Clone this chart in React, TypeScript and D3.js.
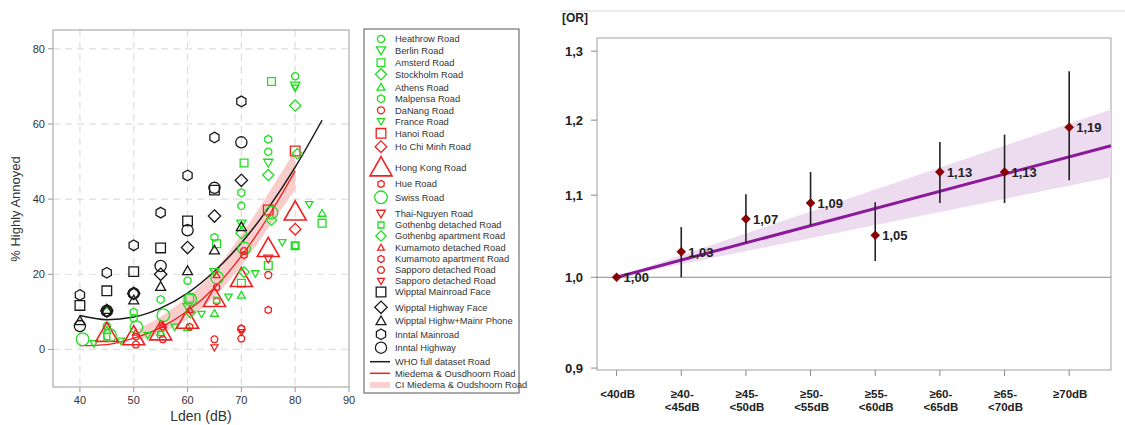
import React from "react";
import * as d3 from "d3";

// ---------------- LEFT CHART DATA ----------------
const xTicksL = [40, 50, 60, 70, 80, 90];
const yTicksL = [0, 20, 40, 60, 80];

const heathrow = [[80, 72.7], [75, 52.6], [70, 38.2], [60, 18.3], [50, 8.3], [45, 6.2]];
const berlin = [[80, 70.2], [75, 49.7], [70, 33.5], [65, 20.6], [60, 11.3]];
const amsterd = [[75.6, 71.3], [70.5, 49.6], [65.4, 28.1], [60.4, 13.6], [85, 33.6], [80, 27.6], [75, 22.3], [70, 17.6]];
const stockholm = [[80, 64.9], [75, 46.4], [70, 30.9]];
const athens = [[85, 36.2], [70, 14.4], [65, 9.6], [60, 5.8], [55, 4.5], [45, 5.1]];
const malpensa = [[75, 55.9], [70, 41.7], [65, 29.8], [55, 13.3], [50, 9.9], [45, 9.9]];
const danang = [[75, 19.8], [70, 5.4]];
const france = [[42.6, 1.6], [47.6, 2.3], [52.6, 3.8], [57.6, 6.0], [62.6, 9.4], [67.6, 14.0], [72.6, 20.2], [77.6, 28.5], [82.6, 38.6], [80, 69.6]];
const hanoi = [[75, 37.1], [80, 52.8]];
const hochiminh = [[80, 32.0]];
const hongkong = [[45, 4.3], [50, 3.4], [55, 4.7], [60, 7.8], [65, 13.6], [70, 18.9], [75, 26.9], [80, 36.6]];
const hue = [[75, 10.5], [70, 5.6], [65.4, 12.8]];
const swiss = [[40.5, 2.7], [45.6, 3.8], [50.5, 5.9], [55.5, 9.1], [60.5, 13.3], [65.5, 19.1], [70.5, 26.9], [75.6, 36.4]];
const thaiNguyen = [[75, 24.2]];
const gothDetached = [[80, 27.6], [65.4, 13.1], [55, 4.0], [45, 3.4]];
const gothApartment = [[80.4, 52.1], [75.6, 34.4], [70.5, 20.6], [60.5, 9.8]];
const kumDetached = [[65.4, 19.8], [60.4, 10.5], [55.4, 6.5], [50.4, 4.5]];
const kumApartment = [[70.5, 25.1], [65.4, 16.5], [60.4, 6.0], [55.4, 6.0], [50.4, 3.4]];
const sapporoCircle = [[70, 2.9], [65, 2.7], [55.4, 2.7], [50.4, 1.3], [70.5, 26.2]];
const sapporoTri = [[65, 0.5], [70, 4.6]];
const wipptalMain = [[40, 11.7], [45, 15.6], [50, 20.7], [55, 27.0], [60, 34.2], [65, 42.4]];
const wipptalHighway = [[45, 10.3], [50, 14.9], [55, 20.0], [60, 27.1], [65, 35.5], [70, 45.0]];
const wipptalPhone = [[40, 7.6], [45, 10.6], [50, 13.1], [55, 16.7], [60, 20.9], [65, 26.4], [70, 32.6]];
const inntalMain = [[40, 14.5], [45, 20.4], [50, 27.7], [55, 36.4], [60, 46.3], [65, 56.4], [70, 66.0], [45, 10.0], [50, 14.8]];
const inntalHighway = [[40, 6.2], [45, 10.3], [50, 14.9], [55, 22.2], [60, 31.7], [65, 43.0], [70, 55.1]];

const whoX = [40, 45, 50, 55, 60, 65, 70, 75, 80, 85];
const whoY = [9.0, 7.9, 8.6, 11.0, 15.0, 20.8, 28.3, 37.6, 48.5, 61.0];
const miedemaX = [40, 45, 50, 55, 60, 65, 70, 75, 80];
const miedemaY = [1.0, 1.3, 3.0, 5.8, 10.2, 16.4, 24.8, 35.3, 47.5];
const ciX = [51, 55, 60, 65, 70, 75, 80];
const ciLow = [2.5, 4.3, 8.0, 14.0, 22.3, 32.3, 42.5];
const ciHigh = [5.6, 8.7, 14.0, 21.0, 30.5, 41.5, 53.0];

// ---------------- RIGHT CHART DATA ----------------
const categories = ["<40dB", "≥40-<45dB", "≥45-<50dB", "≥50-<55dB", "≥55-<60dB", "≥60-<65dB", "≥65-<70dB", "≥70dB"];
const categoryLines = [["<40dB"], ["≥40-", "<45dB"], ["≥45-", "<50dB"], ["≥50-", "<55dB"], ["≥55-", "<60dB"], ["≥60-", "<65dB"], ["≥65-", "<70dB"], ["≥70dB"]];
const orValues = [1.0, 1.03, 1.07, 1.09, 1.05, 1.13, 1.13, 1.19];
const orLow = [1.0, 1.0, 1.041, 1.062, 1.019, 1.09, 1.09, 1.119];
const orHigh = [1.0, 1.06, 1.101, 1.13, 1.091, 1.17, 1.18, 1.27];
const orLabels = ["1,00", "1,03", "1,07", "1,09", "1,05", "1,13", "1,13", "1,19"];
const yTicksR = [0.9, 1.0, 1.1, 1.2, 1.3];
const yTickLabelsR = ["0,9", "1,0", "1,1", "1,2", "1,3"];
const trendCat = [0, 7];
const trendOR = [1.0, 1.15];
const trendUpper = [1.0, 1.195];
const trendLower = [1.0, 1.112];

// ---------------- STYLES ----------------
const GREEN = "#22dd22";
const RED = "#ee2020";
const BLACK = "#1a1a1a";

type Shape = "circle" | "triUp" | "triDown" | "square" | "diamond" | "hexagon";
const series: { name: string; data: number[][]; shape: Shape; color: string; r: number; gap: number }[] = [
  { name: "Heathrow Road", data: heathrow, shape: "circle", color: GREEN, r: 3.6, gap: 0 },
  { name: "Berlin Road", data: berlin, shape: "triDown", color: GREEN, r: 4.6, gap: 11.3 },
  { name: "Amsterd Road", data: amsterd, shape: "square", color: GREEN, r: 3.9, gap: 12.4 },
  { name: "Stockholm Road", data: stockholm, shape: "diamond", color: GREEN, r: 5.6, gap: 11.6 },
  { name: "Athens Road", data: athens, shape: "triUp", color: GREEN, r: 3.9, gap: 13 },
  { name: "Malpensa Road", data: malpensa, shape: "hexagon", color: GREEN, r: 4.0, gap: 11.4 },
  { name: "DaNang Road", data: danang, shape: "circle", color: RED, r: 3.5, gap: 11.6 },
  { name: "France Road", data: france, shape: "triDown", color: GREEN, r: 3.7, gap: 11 },
  { name: "Hanoi Road", data: hanoi, shape: "square", color: RED, r: 4.8, gap: 12 },
  { name: "Ho Chi Minh Road", data: hochiminh, shape: "diamond", color: RED, r: 5.8, gap: 13.4 },
  { name: "Hong Kong Road", data: hongkong, shape: "triUp", color: RED, r: 11, gap: 21 },
  { name: "Hue Road", data: hue, shape: "hexagon", color: RED, r: 3.6, gap: 16.3 },
  { name: "Swiss Road", data: swiss, shape: "circle", color: GREEN, r: 6.3, gap: 13.3 },
  { name: "Thai-Nguyen Road", data: thaiNguyen, shape: "triDown", color: RED, r: 4.4, gap: 16.2 },
  { name: "Gothenbg detached Road", data: gothDetached, shape: "square", color: GREEN, r: 3.0, gap: 11.5 },
  { name: "Gothenbg apartment Road", data: gothApartment, shape: "diamond", color: GREEN, r: 5.2, gap: 11 },
  { name: "Kumamoto detached Road", data: kumDetached, shape: "triUp", color: RED, r: 3.4, gap: 11.7 },
  { name: "Kumamoto apartment Road", data: kumApartment, shape: "hexagon", color: RED, r: 3.5, gap: 11.3 },
  { name: "Sapporo detached Road", data: sapporoCircle, shape: "circle", color: RED, r: 3.4, gap: 11 },
  { name: "Sapporo detached Road", data: sapporoTri, shape: "triDown", color: RED, r: 3.5, gap: 11 },
  { name: "Wipptal Mainroad Face", data: wipptalMain, shape: "square", color: BLACK, r: 4.8, gap: 11 },
  { name: "Wipptal Highway Face", data: wipptalHighway, shape: "diamond", color: BLACK, r: 6.2, gap: 15.3 },
  { name: "Wipptal Highw+Mainr Phone", data: wipptalPhone, shape: "triUp", color: BLACK, r: 5.0, gap: 13.7 },
  { name: "Inntal Mainroad", data: inntalMain, shape: "hexagon", color: BLACK, r: 5.3, gap: 13.3 },
  { name: "Inntal Highway", data: inntalHighway, shape: "circle", color: BLACK, r: 5.6, gap: 13.4 },
];

function symPath(shape: Shape, r: number): string {
  const p = d3.path();
  if (shape === "circle") {
    p.arc(0, 0, r, 0, Math.PI * 2);
    p.closePath();
  } else if (shape === "square") {
    p.rect(-r, -r, 2 * r, 2 * r);
  } else if (shape === "diamond") {
    p.moveTo(0, -r); p.lineTo(r, 0); p.lineTo(0, r); p.lineTo(-r, 0); p.closePath();
  } else if (shape === "triUp") {
    p.moveTo(0, -r); p.lineTo(r, r * 0.74); p.lineTo(-r, r * 0.74); p.closePath();
  } else if (shape === "triDown") {
    p.moveTo(0, r); p.lineTo(r, -r * 0.74); p.lineTo(-r, -r * 0.74); p.closePath();
  } else {
    for (let k = 0; k < 6; k++) {
      const a = -Math.PI / 2 + (k * Math.PI) / 3;
      const x = r * Math.cos(a), y = r * Math.sin(a);
      if (k === 0) p.moveTo(x, y); else p.lineTo(x, y);
    }
    p.closePath();
  }
  return p.toString();
}

const FONT = "Arial, 'Liberation Sans', Helvetica, sans-serif";

function LeftChart() {
  const x = d3.scaleLinear().domain([35, 90]).range([53, 349]);
  const y = d3.scaleLinear().domain([-10, 85]).range([387, 30]);
  const whoPath = d3.line<number>().x((d) => x(d)).y((_, i) => y(whoY[i])).curve(d3.curveMonotoneX)(whoX) || "";
  const miePath = d3.line<number>().x((d) => x(d)).y((_, i) => y(miedemaY[i])).curve(d3.curveMonotoneX)(miedemaX) || "";
  const ciPath = d3.area<number>().x((d) => x(d)).y0((_, i) => y(ciLow[i])).y1((_, i) => y(ciHigh[i])).curve(d3.curveMonotoneX)(ciX) || "";

  const legendX = 364, legendY = 29, legendW = 155, legendH = 364;
  let cy = 39;
  const rows = series.map((s, i) => {
    if (i > 0) cy += s.gap;
    return { ...s, y: cy };
  });
  const lineRows = [
    { name: "WHO full dataset Road", kind: "line", color: BLACK, y: cy + 14 },
    { name: "Miedema & Ousdhoorn Road", kind: "line", color: RED, y: cy + 25.6 },
    { name: "CI Miedema & Oudshoorn Road", kind: "band", color: "#fbd0d0", y: cy + 37.3 },
  ];

  return (
    <g fontFamily={FONT}>
      {xTicksL.slice(0, 5).map((t) => (
        <line key={"gx" + t} x1={x(t)} x2={x(t)} y1={30} y2={387} stroke="#dedede" strokeWidth={1.2} strokeDasharray="7,5" />
      ))}
      {yTicksL.map((t) => (
        <line key={"gy" + t} x1={53} x2={349} y1={y(t)} y2={y(t)} stroke="#dedede" strokeWidth={1.2} strokeDasharray="7,5" />
      ))}
      <path d={ciPath} fill="#f9c4c4" fillOpacity={0.85} stroke="none" />
      <path d={miePath} fill="none" stroke={RED} strokeWidth={1.3} />
      <path d={whoPath} fill="none" stroke={BLACK} strokeWidth={1.5} />
      {series.map((s, si) =>
        s.data.map((d, i) => (
          <path key={si + "-" + i} d={symPath(s.shape, s.r)} transform={`translate(${x(d[0])},${y(d[1])})`} fill="none" stroke={s.color} strokeWidth={s.r > 8 ? 1.6 : 1.3} />
        ))
      )}
      <rect x={53} y={30} width={296} height={357} fill="none" stroke="#9a9a9a" strokeWidth={1} />
      {yTicksL.map((t) => (
        <g key={"ty" + t}>
          <line x1={48} x2={53} y1={y(t)} y2={y(t)} stroke="#9a9a9a" />
          <text x={45} y={y(t) + 4} fontSize={11} fill="#333" textAnchor="end">{t}</text>
        </g>
      ))}
      {xTicksL.map((t) => (
        <g key={"tx" + t}>
          <line x1={x(t)} x2={x(t)} y1={387} y2={392} stroke="#9a9a9a" />
          <text x={x(t)} y={404} fontSize={11} fill="#333" textAnchor="middle">{t}</text>
        </g>
      ))}
      <text x={201} y={421} fontSize={14} fill="#333" textAnchor="middle">Lden (dB)</text>
      <text transform="translate(20,209) rotate(-90)" fontSize={13} fill="#333" textAnchor="middle">% Highly Annoyed</text>
      <rect x={legendX} y={legendY} width={legendW} height={legendH} fill="white" stroke="#555" strokeWidth={1} />
      {rows.map((r, i) => (
        <g key={"lg" + i}>
          <path d={symPath(r.shape, r.r)} transform={`translate(381,${r.y})`} fill="none" stroke={r.color} strokeWidth={r.r > 8 ? 1.6 : 1.3} />
          <text x={395} y={r.y + 3.3} fontSize={9.3} fill="#333">{r.name}</text>
        </g>
      ))}
      {lineRows.map((r, i) => (
        <g key={"ll" + i}>
          {r.kind === "line" ? (
            <line x1={370} x2={390} y1={r.y} y2={r.y} stroke={r.color} strokeWidth={1.5} />
          ) : (
            <rect x={370} y={r.y - 3} width={20} height={6} fill={r.color} />
          )}
          <text x={395} y={r.y + 3.3} fontSize={9.3} fill="#333">{r.name}</text>
        </g>
      ))}
    </g>
  );
}

function RightChart() {
  const left = 597, right = 1111, top = 38, bottom = 370;
  const x = d3.scalePoint<string>().domain(categories).range([616.6, 1069.2]);
  const y = d3.scaleLog().domain([0.898, 1.32]).range([bottom, top]);
  const step = x.step();
  const x0 = x(categories[0]) as number;
  const catPx = (c: number) => x0 + c * step;
  const edgeCat = (right - x0) / step;
  const extend = (vals: number[]) => {
    const l0 = Math.log(vals[0]), l1 = Math.log(vals[1]);
    const slope = (l1 - l0) / (trendCat[1] - trendCat[0]);
    return Math.exp(l0 + slope * (edgeCat - trendCat[0]));
  };
  const cats = [trendCat[0], edgeCat];
  const up = [trendUpper[0], extend(trendUpper)];
  const lo = [trendLower[0], extend(trendLower)];
  const tr = [trendOR[0], extend(trendOR)];
  const band = d3.area<number>().x((c) => catPx(c)).y0((_, i) => y(lo[i])).y1((_, i) => y(up[i]))(cats) || "";
  const trend = d3.line<number>().x((c) => catPx(c)).y((_, i) => y(tr[i]))(cats) || "";

  return (
    <g fontFamily={FONT}>
      <line x1={560} x2={1125} y1={11} y2={11} stroke="#d8d8d8" strokeWidth={1} />
      <text x={562} y={22} fontSize={12} fontWeight="bold" fill="#222" textAnchor="start">[OR]</text>
      <rect x={left} y={top} width={right - left} height={bottom - top} fill="white" stroke="#a0a0a0" strokeWidth={1} />
      <path d={band} fill="#eddcf0" stroke="none" />
      <line x1={left} x2={right} y1={y(1)} y2={y(1)} stroke="#8a8a8a" strokeWidth={1} />
      <path d={trend} fill="none" stroke="#8b1a9a" strokeWidth={3} />
      {yTicksR.map((t, i) => (
        <g key={"yt" + i}>
          <line x1={591} x2={left} y1={y(t)} y2={y(t)} stroke="#888" />
          <text x={583} y={y(t) + 5} fontSize={13} fontWeight="bold" fill="#222" textAnchor="end">{yTickLabelsR[i]}</text>
        </g>
      ))}
      {categories.map((c, i) => (
        <g key={"xc" + i}>
          <line x1={x(c)} x2={x(c)} y1={bottom} y2={bottom + 6} stroke="#888" />
          {categoryLines[i].map((ln, j) => (
            <text key={j} x={(x(c) as number) + 1} y={398 + j * 13} fontSize={11.5} fontWeight="bold" fill="#222" textAnchor="middle">{ln}</text>
          ))}
        </g>
      ))}
      {categories.map((c, i) =>
        i > 0 ? (
          <line key={"eb" + i} x1={x(c)} x2={x(c)} y1={y(orLow[i])} y2={y(orHigh[i])} stroke="#222" strokeWidth={1.6} />
        ) : null
      )}
      {categories.map((c, i) => (
        <g key={"pt" + i}>
          <path d={symPath("diamond", 4.5)} transform={`translate(${x(c)},${y(orValues[i])})`} fill="#8b0000" stroke="#5a0000" strokeWidth={0.5} />
          <text x={(x(c) as number) + 7} y={y(orValues[i]) + 5} fontSize={13} fontWeight="bold" fill="#222">{orLabels[i]}</text>
        </g>
      ))}
    </g>
  );
}

export default function App() {
  return (
    <svg width={1125} height={425} style={{ display: "block", position: "absolute", left: 0, top: 0, background: "white" }}>
      <rect width={1125} height={425} fill="white" />
      <LeftChart />
      <RightChart />
    </svg>
  );
}
